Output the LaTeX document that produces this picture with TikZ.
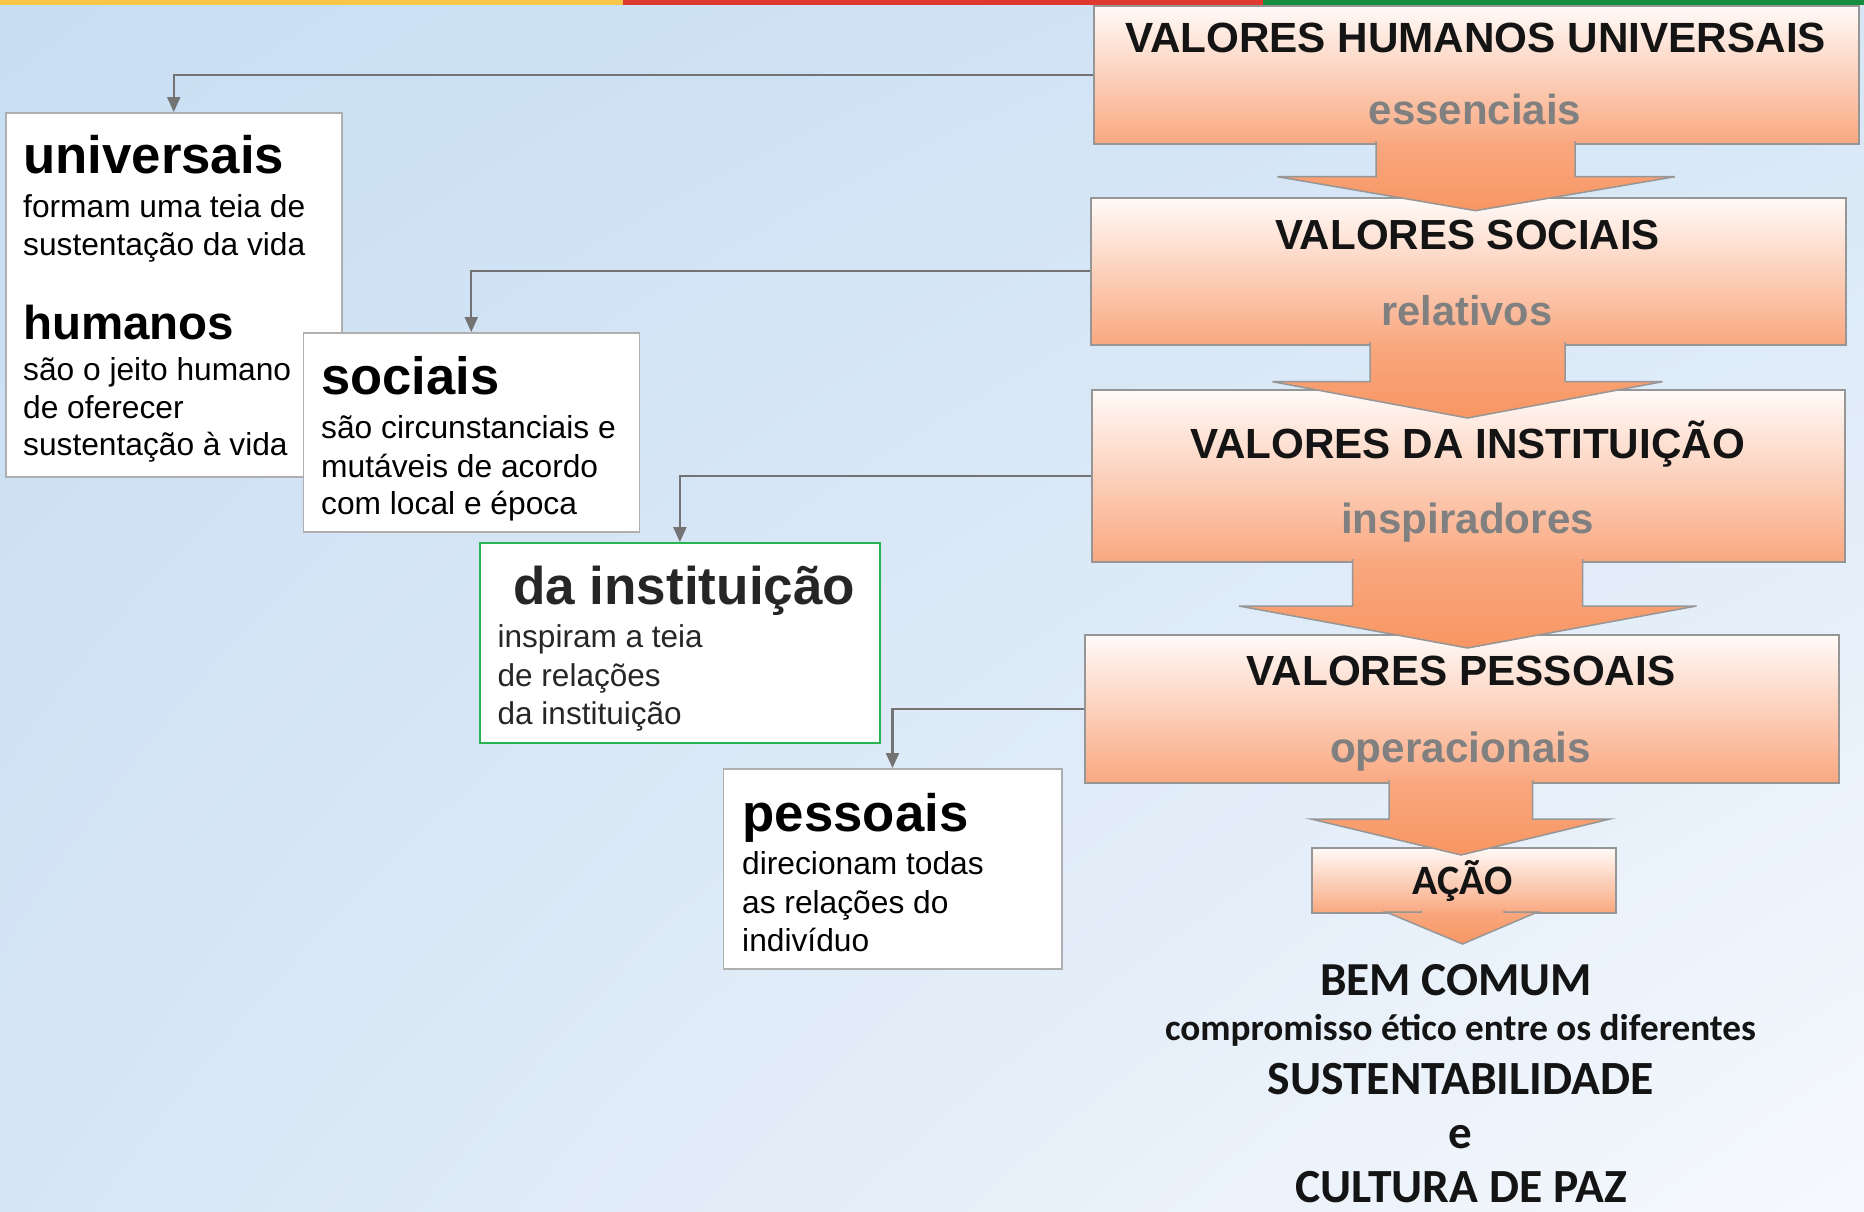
\documentclass[tikz,border=0pt]{standalone}
\usepackage{fontspec}
\setmainfont{Liberation Sans}
\newfontfamily\carl{Carlito}
\usetikzlibrary{arrows.meta,shadings}
\definecolor{bgUL}{RGB}{200,222,243}
\definecolor{bgUR}{RGB}{214,230,246}
\definecolor{bgLL}{RGB}{214,229,245}
\definecolor{bgLR}{RGB}{246,249,253}
\definecolor{baryellow}{RGB}{250,198,70}
\definecolor{barred}{RGB}{222,56,48}
\definecolor{bargreen}{RGB}{22,140,62}
\definecolor{boxtop}{RGB}{255,250,248}
\definecolor{boxbot}{RGB}{249,168,128}
\definecolor{arrbot}{RGB}{248,150,98}
\definecolor{boxline}{RGB}{150,150,150}
\definecolor{wline}{RGB}{175,175,175}
\definecolor{gline}{RGB}{40,180,80}
\definecolor{connc}{RGB}{115,115,115}
\definecolor{subgray}{RGB}{128,128,128}
\definecolor{dgray}{RGB}{38,38,38}
\definecolor{tblack}{RGB}{20,20,20}
\newlength\fitlen
\newcommand\fitfont[3]{\settowidth\fitlen{#2\fontsize{10pt}{12pt}\selectfont #3}\pgfmathsetmacro\fitsize{10*#1/\fitlen}#2\fontsize{\fitsize pt}{\fitsize pt}\selectfont}
\newcommand\uBody{\fitfont{282}{}{formam uma teia de}}
\newcommand\sBody{\fitfont{294.6}{}{são circunstanciais e}}
\newcommand\iBody{\fitfont{205}{}{inspiram a teia}}
\newcommand\pBody{\fitfont{241.6}{}{direcionam todas}}
\newcommand\bigarrow[8]{%
  \shade[top color=boxbot,bottom color=arrbot] (#1,#3) -- (#1,#4) -- (#5,#4) -- (#7,#8) -- (#6,#4) -- (#2,#4) -- (#2,#3) -- cycle;
  \draw[arrline] (#1,#3) -- (#1,#4) -- (#5,#4) -- (#7,#8) -- (#6,#4) -- (#2,#4) -- (#2,#3);}
\tikzset{
  rbox/.style={draw=boxline, line width=1.5pt, top color=boxtop, bottom color=boxbot, inner sep=0pt, anchor=north west},
  wbox/.style={draw=wline, line width=1.5pt, fill=white, inner sep=0pt, anchor=north west},
  gbox/.style={draw=gline, line width=1.8pt, fill=white, inner sep=0pt, anchor=north west},
  txt/.style={inner sep=0pt, anchor=base west},
  ctxt/.style={inner sep=0pt, anchor=base, text=tblack},
  conn/.style={draw=connc, line width=2.3pt, -{Triangle[length=15pt,width=13pt]}},
  arrline/.style={draw=boxline, line width=1.5pt, line join=miter},
}
\begin{document}
\begin{tikzpicture}[x=1pt,y=-1pt]
\useasboundingbox (0,0) rectangle (1864,1211);
\shade[upper left=bgUL, upper right=bgUR, lower left=bgLL, lower right=bgLR] (0,0) rectangle (1864,1211);
\fill[baryellow] (0,0) rectangle (623,5);
\fill[barred] (623,0) rectangle (1263,5);
\fill[bargreen] (1263,0) rectangle (1864,5);

% right column boxes
\node[rbox, minimum width=765pt, minimum height=138pt] (b1) at (1093,5) {};
\node[rbox, minimum width=755pt, minimum height=147pt] (b2) at (1090,197) {};
\node[rbox, minimum width=753pt, minimum height=172pt] (b3) at (1091,389) {};
\node[rbox, minimum width=754pt, minimum height=148pt] (b4) at (1084,634) {};
\node[rbox, minimum width=304pt, minimum height=65pt] (b5) at (1311,847) {};

% big arrows
\bigarrow{1376}{1575}{141}{176.7}{1277.5}{1675}{1475.5}{210.7}
\bigarrow{1370}{1565}{342}{381.7}{1272.5}{1662.5}{1467.5}{418}
\bigarrow{1352.5}{1582.5}{559}{606}{1239}{1696.5}{1467.5}{648}
\bigarrow{1389}{1532.5}{780}{819}{1311}{1610}{1461}{855}
\bigarrow{1421}{1504}{910.5}{912}{1386}{1537.5}{1462.5}{944}

% left boxes
\node[wbox, minimum width=336pt, minimum height=364pt] (u) at (5,112) {};
\node[wbox, minimum width=336pt, minimum height=199pt] (s) at (302.5,332) {};
\node[gbox, minimum width=400pt, minimum height=200pt] (i) at (479,542) {};
\node[wbox, minimum width=338.5pt, minimum height=200pt] (p) at (722.5,768) {};

% connectors
\draw[conn] (b1.west) -| (u.north);
\draw[conn] (b2.west) -| (s.north);
\draw[conn] (b3.west) -| (i.north);
\draw[conn] (b4.west) -| (p.north);

% right column texts
\node[ctxt] (t1) at (1475.5,52.5) {\fitfont{701}{\bfseries}{VALORES HUMANOS UNIVERSAIS}VALORES HUMANOS UNIVERSAIS};
\node[ctxt, text=subgray] (s1) at (1475,124) {\fitfont{212.5}{\bfseries}{essenciais}essenciais};
\node[ctxt] (t2) at (1467.5,249.5) {\fitfont{385}{\bfseries}{VALORES SOCIAIS}VALORES SOCIAIS};
\node[ctxt, text=subgray] (s2) at (1467,325.5) {\fitfont{171}{\bfseries}{relativos}relativos};
\node[ctxt] (t3) at (1467.5,458) {\fitfont{555}{\bfseries}{VALORES DA INSTITUIÇÃO}VALORES DA INSTITUIÇÃO};
\node[ctxt, text=subgray] (s3) at (1467.5,533.5) {\fitfont{253}{\bfseries}{inspiradores}inspiradores};
\node[ctxt] (t4) at (1461,685) {\fitfont{428.5}{\bfseries}{VALORES PESSOAIS}VALORES PESSOAIS};
\node[ctxt, text=subgray] (s4) at (1460.5,762.5) {\fitfont{261}{\bfseries}{operacionais}operacionais};
\node[ctxt] (t5) at (1462.5,894.5) {\fitfont{100}{\carl\bfseries}{AÇÃO}AÇÃO};

% bottom texts
\node[ctxt] (bem) at (1456,995) {\fitfont{272}{\carl\bfseries}{BEM COMUM}BEM COMUM};
\node[ctxt] (comp) at (1460.5,1040) {\fitfont{591}{\carl\bfseries}{compromisso ético entre os diferentes}compromisso ético entre os diferentes};
\node[ctxt] (sus) at (1460.5,1094.3) {\fitfont{386}{\carl\bfseries}{SUSTENTABILIDADE}SUSTENTABILIDADE};
\node[ctxt] (e) at (1460.5,1148) {\carl\bfseries\fontsize{47pt}{47pt}\selectfont e};
\node[ctxt] (cult) at (1461,1202.3) {\fitfont{331.5}{\carl\bfseries}{CULTURA DE PAZ}CULTURA DE PAZ};

% box U texts
\node[txt] (ut1) at (23,173.5) {\fitfont{261}{\bfseries}{universais}universais};
\node[txt] (ub1) at (23,217.5) {\uBody formam uma teia de};
\node[txt] (ub2) at (23,255.5) {\uBody sustentação da vida};
\node[txt] (ut2) at (23,339) {\fitfont{211}{\bfseries}{humanos}humanos};
\node[txt] (ub3) at (23,380.5) {\uBody são o jeito humano};
\node[txt] (ub4) at (23,418.5) {\uBody de oferecer};
\node[txt] (ub5) at (23,455.5) {\uBody sustentação à vida};

% box S texts
\node[txt] (st) at (321,394) {\fitfont{178}{\bfseries}{sociais}sociais};
\node[txt] (sb1) at (321,438.5) {\sBody são circunstanciais e};
\node[txt] (sb2) at (321,477) {\sBody mutáveis de acordo};
\node[txt] (sb3) at (321,514) {\sBody com local e época};

% box I texts
\node[txt, text=dgray] (it) at (513,604) {\fitfont{342}{\bfseries}{da instituição}da instituição};
\node[txt, text=dgray] (ib1) at (497.5,647) {\iBody inspiram a teia};
\node[txt, text=dgray] (ib2) at (497.5,686) {\iBody de relações};
\node[txt, text=dgray] (ib3) at (497.5,724.5) {\iBody da instituição};

% box P texts
\node[txt] (pt) at (742.5,831.5) {\fitfont{225.7}{\bfseries}{pessoais}pessoais};
\node[txt] (pb1) at (742,874.5) {\pBody direcionam todas};
\node[txt] (pb2) at (742,913) {\pBody as relações do};
\node[txt] (pb3) at (742,951) {\pBody indivíduo};
\end{tikzpicture}
\end{document}
